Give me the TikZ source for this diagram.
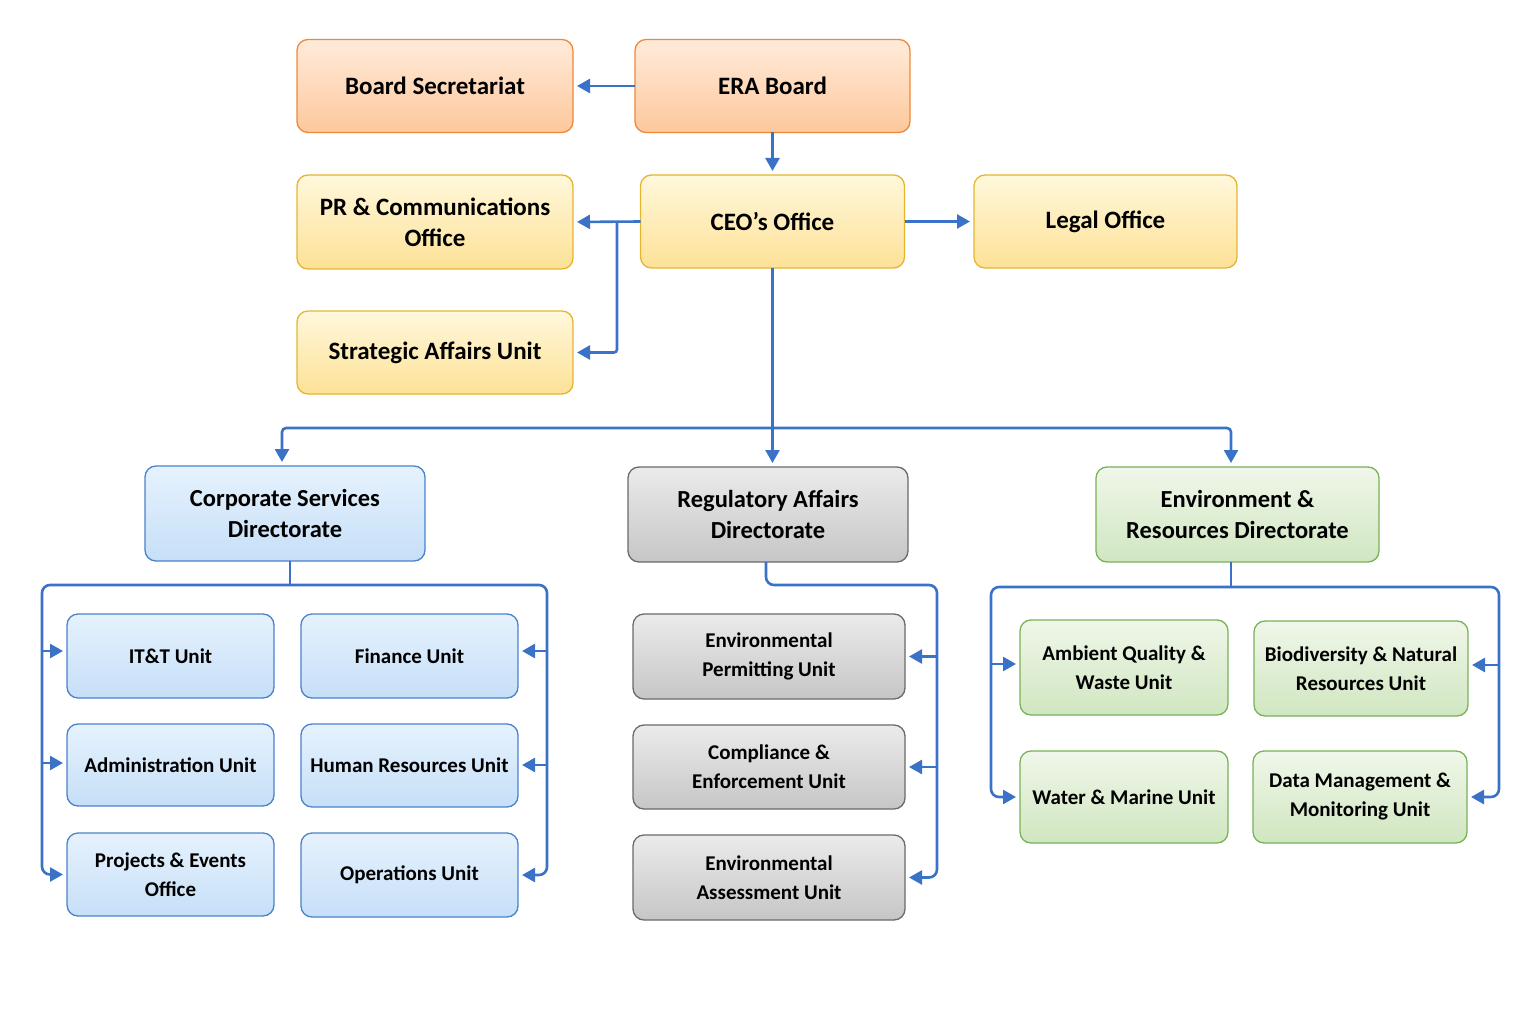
\documentclass[tikz,border=0pt]{standalone}
\usepackage{fontspec}
\setmainfont{Carlito}
\usetikzlibrary{arrows.meta,calc}
\definecolor{arrc}{HTML}{3A72C8}
\definecolor{orB}{HTML}{F0883A}\definecolor{orT}{HTML}{FFEBDA}\definecolor{orL}{HTML}{FDC89C}
\definecolor{yeB}{HTML}{E6B52E}\definecolor{yeT}{HTML}{FFF8DC}\definecolor{yeL}{HTML}{FDE196}
\definecolor{blB}{HTML}{4A82CC}\definecolor{blT}{HTML}{E6F2FD}\definecolor{blL}{HTML}{C6DFF8}
\definecolor{grB}{HTML}{6A6A6A}\definecolor{grT}{HTML}{EBEBEB}\definecolor{grL}{HTML}{C6C6C6}
\definecolor{gnB}{HTML}{78B257}\definecolor{gnT}{HTML}{F0F7EA}\definecolor{gnL}{HTML}{D0E6C0}
\tikzset{
  basebox/.style={rounded corners=11pt, line width=1.3pt, align=center, inner sep=2pt, outer sep=0pt},
  topfont/.style={font=\fontsize{25}{31}\selectfont\bfseries},
  dirfont/.style={font=\fontsize{24.5}{31}\selectfont\bfseries},
  unitfont/.style={font=\fontsize{21}{29}\selectfont\bfseries},
  orbox/.style={basebox, topfont, draw=orB, top color=orT, bottom color=orL},
  yebox/.style={basebox, topfont, draw=yeB, top color=yeT, bottom color=yeL},
  bldir/.style={basebox, dirfont, draw=blB, top color=blT, bottom color=blL},
  grdir/.style={basebox, dirfont, draw=grB, top color=grT, bottom color=grL},
  gndir/.style={basebox, dirfont, draw=gnB, top color=gnT, bottom color=gnL},
  blunit/.style={basebox, unitfont, draw=blB, top color=blT, bottom color=blL, minimum width=207pt, minimum height=84pt},
  grunit/.style={basebox, unitfont, draw=grB, top color=grT, bottom color=grL, minimum width=272pt, minimum height=85pt},
  gnunit/.style={basebox, unitfont, draw=gnB, top color=gnT, bottom color=gnL, minimum width=212pt, minimum height=93pt},
  link/.style={draw=arrc, line width=2.6pt},
  arr/.style={link, -{Triangle[length=13pt,width=14pt]}, shorten >=4pt},
}
\begin{document}
\begin{tikzpicture}[x=1pt,y=-1pt]
\useasboundingbox (0,0) rectangle (1536,1024);
% top level
\node[orbox, minimum width=276pt, minimum height=93pt] (bs) at (435,86) {Board Secretariat};
\node[orbox, minimum width=275pt, minimum height=93pt] (era) at (772.5,86) {ERA Board};
\node[yebox, minimum width=276pt, minimum height=94pt] (pr) at (435,222) {PR \& Communications\\Office};
\node[yebox, minimum width=264pt, minimum height=93pt] (ceo) at (772.5,221.5) {CEO’s Office};
\node[yebox, minimum width=263pt, minimum height=93pt] (legal) at (1105.5,221.5) {Legal Office};
\node[yebox, minimum width=276pt, minimum height=83pt] (sa) at (435,352.5) {Strategic Affairs Unit};
% directorates
\node[bldir, minimum width=280pt, minimum height=95pt] (cs) at (285,513.5) {Corporate Services\\Directorate};
\node[grdir, minimum width=280pt, minimum height=95pt] (reg) at (768,514.5) {Regulatory Affairs\\Directorate};
\node[gndir, minimum width=283pt, minimum height=95pt] (env) at (1237.5,514.5) {Environment \&\\Resources Directorate};
% corporate units
\node[blunit] (itt) at (170.5,656) {IT\&T Unit};
\node[blunit, minimum width=217pt] (fin) at (409.5,656) {Finance Unit};
\node[blunit, minimum height=82pt] (adm) at (170.5,765) {Administration Unit};
\node[blunit, minimum width=217pt, minimum height=83pt] (hr) at (409.5,765.5) {Human Resources Unit};
\node[blunit, minimum height=83pt] (pe) at (170.5,874.5) {Projects \& Events\\Office};
\node[blunit, minimum width=217pt] (ops) at (409.5,875) {Operations Unit};
% regulatory units
\node[grunit] (ep) at (769,656.5) {Environmental\\Permitting Unit};
\node[grunit, minimum height=84pt] (ce) at (769,767) {Compliance \&\\Enforcement Unit};
\node[grunit] (ea) at (769,877.5) {Environmental\\Assessment Unit};
% environment units
\node[gnunit, minimum width=208pt, minimum height=95pt] (aq) at (1124,667.5) {Ambient Quality \&\\Waste Unit};
\node[gnunit, minimum width=214pt, minimum height=95pt] (bio) at (1361,668.5) {Biodiversity \& Natural\\Resources Unit};
\node[gnunit, minimum width=208pt, minimum height=92pt] (wm) at (1124,797) {Water \& Marine Unit};
\node[gnunit, minimum width=214pt, minimum height=92pt] (dm) at (1360,797) {Data Management \&\\Monitoring Unit};
% coordinates
\coordinate (b1) at (617,222);
\coordinate (bus) at (772.5,428);
\coordinate (csL) at (42,585);
\coordinate (csR) at (547,585);
\coordinate (regR) at (937,585);
\coordinate (envL) at (991,587);
\coordinate (envR) at (1499,587);
% top connectors
\draw[arr] (era.west) -- (bs.east);
\draw[arr] (era.south) -- (ceo.north);
\draw[arr] (ceo.west) -- (pr.east);
\draw[arr, rounded corners=3pt] (b1) |- (sa.east);
\draw[arr] (ceo.east) -- (legal.west);
\draw[arr] (ceo.south) -- (ceo.south |- reg.north);
\draw[arr, rounded corners=4pt] (bus) -| (282,466);
\draw[arr, rounded corners=4pt] (bus) -| (1231,467);
% corporate
\draw[link] (cs.south -| 290,0) -- (290,585);
\draw[arr, rounded corners=8pt] (290,585) -| (csL |- pe.west) -- (pe.west);
\draw[arr, rounded corners=8pt] (290,585) -| (csR |- ops.east) -- (ops.east);
\draw[arr] (csL |- 0,651) -- (itt.west |- 0,651);
\draw[arr] (csL |- 0,763) -- (adm.west |- 0,763);
\draw[arr] (csR |- 0,651) -- (fin.east |- 0,651);
\draw[arr] (csR |- 0,765) -- (hr.east |- 0,765);
% regulatory
\draw[arr, rounded corners=8pt] (reg.south -| 766,0) |- (regR) -- (regR |- ea.east) -- (ea.east);
\draw[arr] (regR |- ep.east) -- (ep.east);
\draw[arr] (regR |- ce.east) -- (ce.east);
% environment
\draw[link] (env.south -| 1231,0) -- (1231,587);
\draw[arr, rounded corners=8pt] (1231,587) -| (envL |- wm.west) -- (wm.west);
\draw[arr, rounded corners=8pt] (1231,587) -| (envR |- dm.east) -- (dm.east);
\draw[arr] (envL |- 0,664) -- (aq.west |- 0,664);
\draw[arr] (envR |- 0,665) -- (bio.east |- 0,665);
\end{tikzpicture}
\end{document}
